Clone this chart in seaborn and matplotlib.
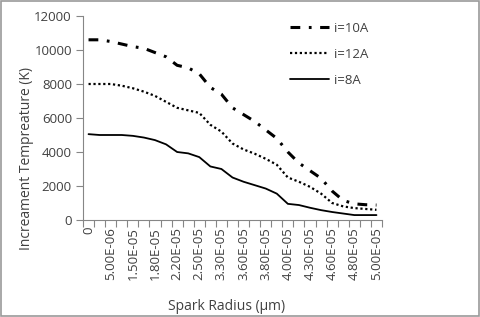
import numpy as np
import pandas as pd
import seaborn as sns
import matplotlib.pyplot as plt
from matplotlib.patches import Rectangle

# spark radius categories (odd ones are not labelled on the axis)
radius = ["0", "2.50E-06", "5.00E-06", "1.00E-05", "1.50E-05", "1.65E-05", "1.80E-05",
          "2.00E-05", "2.20E-05", "2.35E-05", "2.50E-05", "2.90E-05", "3.30E-05",
          "3.45E-05", "3.60E-05", "3.70E-05", "3.80E-05", "3.90E-05", "4.00E-05",
          "4.15E-05", "4.30E-05", "4.45E-05", "4.60E-05", "4.70E-05", "4.80E-05",
          "4.90E-05", "5.00E-05"]

temp_10A = [10600, 10600, 10500, 10350, 10200, 10100, 9850, 9600, 9100, 8950, 8600,
            7800, 7400, 6600, 6200, 5800, 5300, 4800, 4000, 3350, 2900, 2450, 1700,
            1150, 950, 900, 880]
temp_12A = [8000, 8000, 8000, 7900, 7750, 7550, 7300, 6950, 6600, 6450, 6300, 5600,
            5200, 4500, 4150, 3900, 3600, 3250, 2500, 2250, 1950, 1550, 1000, 800,
            700, 650, 600]
temp_8A = [5050, 5000, 5000, 5000, 4950, 4850, 4700, 4450, 4000, 3920, 3700, 3150,
           3000, 2500, 2250, 2050, 1850, 1550, 950, 880, 720, 580, 470, 380, 290,
           290, 290]

series = ["i=10A", "i=12A", "i=8A"]
values = [temp_10A, temp_12A, temp_8A]
styles = [(0, (3.2, 2.8, 0.9, 2.8)), (0, (1.0, 1.2)), "-"]
widths = [2.2, 1.6, 1.3]

sns.set_style("white")
plt.rcParams["font.family"] = ["Open Sans", "DejaVu Sans"]
text_col = "#404040"
axis_col = "#868686"

fig = plt.figure(figsize=(4.8, 3.17), dpi=100)
ax = fig.add_axes([83 / 480, 1 - 220 / 317, 299 / 480, 204 / 317])

pos = np.arange(len(radius))
for name, vals, ls, lw in zip(series, values, styles, widths):
    df = pd.DataFrame({"x": pos, "y": vals})
    sns.lineplot(data=df, x="x", y="y", ax=ax, color="black", linestyle=ls,
                 linewidth=lw, label=name, legend=False)

ax.set_xlim(-0.5, len(radius) - 0.5)
ax.set_ylim(0, 12000)
ax.set_yticks(range(0, 12001, 2000))
ax.set_xticks(np.arange(len(radius) + 1) - 0.5)
ax.set_xticklabels([])
ax.set_xticks(pos[::2], minor=True)
ax.set_xticklabels(radius[::2], minor=True, rotation=90)
ax.tick_params(axis="x", which="major", direction="out", length=5, width=0.8,
               color=axis_col, bottom=True)
ax.tick_params(axis="x", which="minor", length=0, pad=5, labelsize=9.5,
               labelcolor=text_col)
ax.tick_params(axis="y", direction="out", length=5, width=0.8, color=axis_col,
               left=True, labelsize=9.5, labelcolor=text_col, pad=3)
for s in ["top", "right"]:
    ax.spines[s].set_visible(False)
for s in ["left", "bottom"]:
    ax.spines[s].set_color(axis_col)
    ax.spines[s].set_linewidth(0.8)
ax.set_xlabel("")
ax.set_ylabel("")

fig.text(27 / 480, 1 - 159 / 317, "Increament Tempreature (K)", rotation=90,
         ha="center", va="center", fontsize=10, color=text_col)
fig.text(227 / 480, 1 - 306 / 317, "Spark Radius (µm)", ha="center", va="center",
         fontsize=10, color=text_col)

handles, labels = ax.get_legend_handles_labels()
fig.legend(handles, labels, loc="upper left", bbox_to_anchor=(283 / 480, 1 - 15 / 317),
           frameon=False, borderpad=0, handlelength=3.0, handletextpad=0.4,
           labelspacing=1.0, fontsize=9.5, labelcolor=text_col)

fig.patches.append(Rectangle((0.002, 0.003), 0.995, 0.994, transform=fig.transFigure,
                             fill=False, edgecolor="#9a9a9a", linewidth=1.2))

fig.savefig("out.png", dpi=100)
